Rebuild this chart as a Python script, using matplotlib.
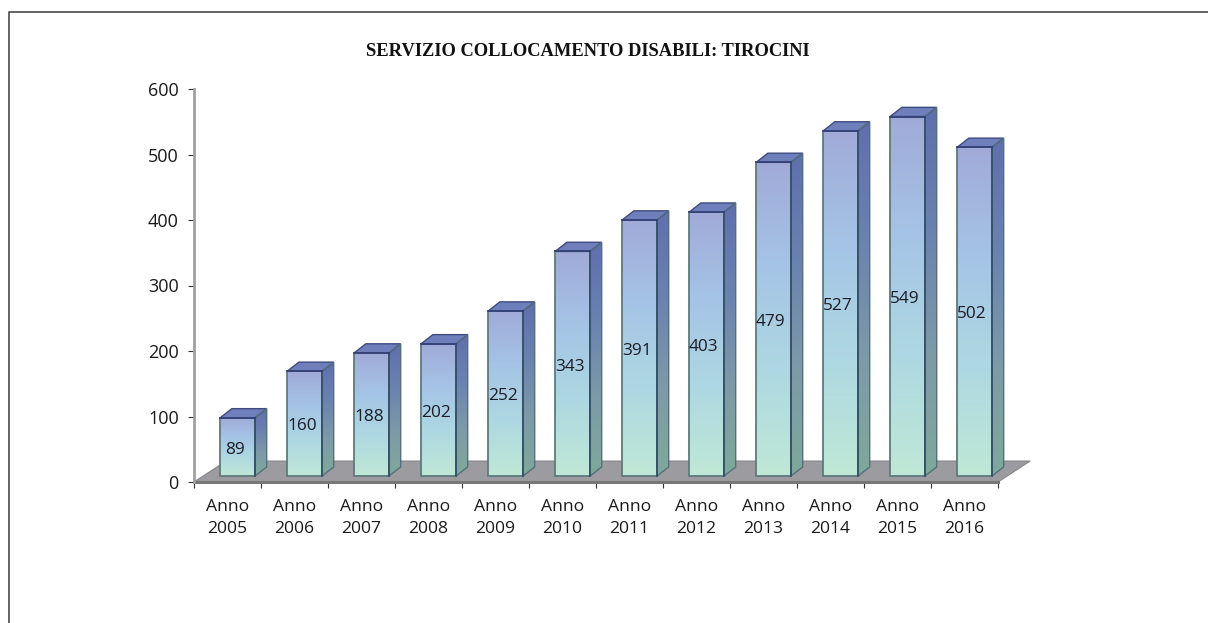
import numpy as np
from matplotlib import pyplot as plt
from matplotlib.colors import LinearSegmentedColormap
from matplotlib.lines import Line2D
from matplotlib.patches import Polygon

plt.rcParams["font.family"] = ["Open Sans", "DejaVu Sans"]

title = "SERVIZIO COLLOCAMENTO DISABILI: TIROCINI"
years = ["2005", "2006", "2007", "2008", "2009", "2010",
         "2011", "2012", "2013", "2014", "2015", "2016"]
values = [89, 160, 188, 202, 252, 343, 391, 403, 479, 527, 549, 502]
y_ticks = [0, 100, 200, 300, 400, 500, 600]

front_cmap = LinearSegmentedColormap.from_list(
    "front", ["#bfe8d6", "#aed8e2", "#a5c4e6", "#a0aad8"])
side_cmap = LinearSegmentedColormap.from_list(
    "side", ["#7fa99a", "#7d9aa8", "#6a82b0", "#5f6fae"])

# depth of the 3d box, in data units (12 px, 9 px)
bar_dx = 0.175
bar_dy = 14
bar_w = 0.52
bar_x0 = 0.39
base = 9


def gradient_poly(ax, verts, cmap, zorder):
    xs = [v[0] for v in verts]
    ys = [v[1] for v in verts]
    grad = np.linspace(0, 1, 256).reshape(-1, 1)
    im = ax.imshow(grad, cmap=cmap, origin="lower", aspect="auto", zorder=zorder,
                   extent=[min(xs), max(xs), min(ys), max(ys)], interpolation="bilinear")
    im.set_clip_path(Polygon(verts, transform=ax.transData))
    # images fall back to the axes box when they have no clip box
    im.set_clip_box(ax.figure.bbox)


def draw_bar(ax, i, value):
    x0 = i + bar_x0
    x1 = x0 + bar_w
    y1 = base + value
    z = 3 + i * 0.01
    front = [(x0, base), (x1, base), (x1, y1), (x0, y1)]
    side = [(x1, base), (x1 + bar_dx, base + bar_dy), (x1 + bar_dx, y1 + bar_dy), (x1, y1)]
    top = [(x0, y1), (x1, y1), (x1 + bar_dx, y1 + bar_dy), (x0 + bar_dx, y1 + bar_dy)]
    gradient_poly(ax, side, side_cmap, z)
    gradient_poly(ax, front, front_cmap, z)
    ax.add_patch(Polygon(top, facecolor="#6f7fbc", edgecolor="#3f4a80", lw=1, zorder=z, clip_on=False))
    ax.add_patch(Polygon(side, fill=False, edgecolor="#55707a", lw=1, zorder=z, clip_on=False))
    ax.add_patch(Polygon(front, fill=False, edgecolor="#5e7a7c", lw=1.3, zorder=z))
    ax.plot([x1, x1], [base, y1], color="#33506a", lw=1.3, zorder=z)
    ax.plot([x0, x1], [y1, y1], color="#2f3a78", lw=1.2, zorder=z)
    ax.annotate(str(value), ((x0 + x1) / 2, base + value / 2), xytext=(-2, -2),
                textcoords="offset points", ha="center", va="center",
                fontsize=12.4, color="#1c1c24", zorder=z + 1)


def plot():
    fig = plt.figure(figsize=(12.08, 6.23), dpi=100)
    ax = fig.add_axes([194 / 1208, 1 - 482 / 623, 804 / 1208, 393 / 623])

    # floor of the 3d chart
    floor = [(0, 0), (12, 0), (12.48, 32), (0.48, 32)]
    ax.add_patch(Polygon(floor, facecolor="#9b9ba0", edgecolor="#85858a", lw=0.8, zorder=1,
                         clip_on=False))

    for i, value in enumerate(values):
        draw_bar(ax, i, value)

    ax.set_xlim(0, 12)
    ax.set_ylim(0, 600)
    for side in ["top", "right"]:
        ax.spines[side].set_visible(False)
    ax.spines["left"].set_color("#a0a0a0")
    ax.spines["left"].set_linewidth(2)
    ax.spines["bottom"].set_color("#777777")
    ax.spines["bottom"].set_linewidth(2.2)
    ax.spines["bottom"].set_zorder(2)

    ax.set_yticks(y_ticks)
    ax.set_xticks(np.arange(13))
    ax.set_xticklabels([])
    ax.set_xticks(np.arange(12) + 0.5, [f"Anno\n{y}" for y in years], minor=True)
    ax.tick_params(axis="x", which="major", length=4, width=0.8, color="#333333")
    ax.tick_params(axis="x", which="minor", length=0, pad=12, labelsize=12.6, labelcolor="#1a1a1a")
    ax.tick_params(axis="y", length=4, width=0.8, color="#333333", pad=7, labelsize=13,
                   labelcolor="#1a1a1a")
    for label in ax.get_xticklabels(minor=True):
        label.set_linespacing(1.53)

    fig.text(588 / 1208, 1 - 51 / 623, title, ha="center", va="center", fontsize=13.3,
             family="Liberation Serif", weight="bold", color="#111111")

    # frame of the pasted picture, open on the right and at the bottom
    fig.add_artist(Line2D([8.5 / 1208, 8.5 / 1208, 1], [0, 1 - 11.5 / 623, 1 - 11.5 / 623],
                          color="#3a3a3a", lw=1.1))

    fig.savefig("out.png", dpi=100)


if __name__ == '__main__':
    plot()
